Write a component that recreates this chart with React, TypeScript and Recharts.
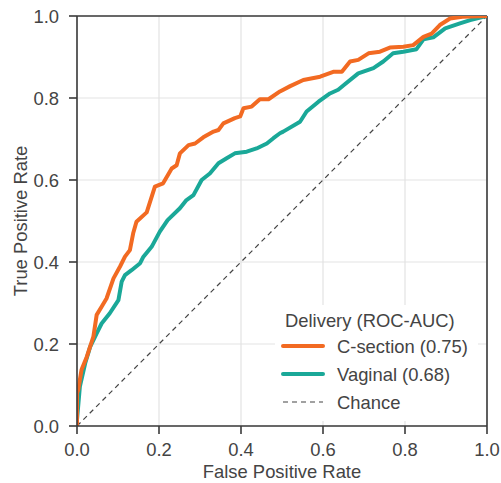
import React from 'react';
import {
  LineChart,
  Line,
  XAxis,
  YAxis,
  CartesianGrid,
  ReferenceLine,
  Legend,
  Label,
} from 'recharts';

// ROC curves by delivery mode
const csectionFpr = [
  0, 0, 0.003, 0.011, 0.024, 0.04, 0.048, 0.06, 0.072, 0.089, 0.105, 0.117, 0.129,
  0.137, 0.145, 0.17, 0.19, 0.21, 0.231, 0.243, 0.251, 0.272, 0.288, 0.308, 0.333,
  0.345, 0.357, 0.385, 0.398, 0.406, 0.426, 0.446, 0.467, 0.495, 0.52, 0.552, 0.593,
  0.625, 0.646, 0.666, 0.686, 0.711, 0.739, 0.763, 0.796, 0.82, 0.845, 0.865, 0.885,
  0.91, 0.94, 1,
];
const csectionTpr = [
  0, 0.08, 0.088, 0.137, 0.169, 0.218, 0.271, 0.291, 0.311, 0.36, 0.389, 0.413, 0.429,
  0.47, 0.498, 0.521, 0.584, 0.592, 0.628, 0.636, 0.665, 0.685, 0.689, 0.704, 0.718,
  0.722, 0.738, 0.751, 0.755, 0.775, 0.779, 0.797, 0.797, 0.816, 0.829, 0.844, 0.852,
  0.864, 0.864, 0.889, 0.893, 0.909, 0.913, 0.923, 0.925, 0.929, 0.949, 0.957, 0.978,
  0.994, 0.998, 1,
];

const vaginalFpr = [
  0, 0, 0.007, 0.02, 0.032, 0.048, 0.06, 0.08, 0.101, 0.109, 0.117, 0.133, 0.154,
  0.162, 0.182, 0.202, 0.221, 0.251, 0.267, 0.284, 0.304, 0.324, 0.345, 0.365, 0.385,
  0.414, 0.438, 0.463, 0.479, 0.495, 0.503, 0.544, 0.56, 0.589, 0.617, 0.637, 0.654,
  0.686, 0.723, 0.747, 0.771, 0.796, 0.828, 0.845, 0.869, 0.898, 0.934, 0.959, 1,
];
const vaginalTpr = [
  0, 0.015, 0.096, 0.153, 0.193, 0.226, 0.25, 0.275, 0.307, 0.352, 0.368, 0.38, 0.397,
  0.413, 0.437, 0.474, 0.502, 0.531, 0.551, 0.563, 0.6, 0.616, 0.641, 0.653, 0.665,
  0.669, 0.677, 0.689, 0.702, 0.714, 0.718, 0.742, 0.767, 0.791, 0.811, 0.82, 0.834,
  0.86, 0.873, 0.889, 0.909, 0.913, 0.919, 0.943, 0.948, 0.97, 0.982, 0.99, 1,
];

const chanceFpr = [0, 1];
const chanceTpr = [0, 1];

const axisTicks = [0, 0.2, 0.4, 0.6, 0.8, 1.0];

const seriesNames = ['C-section (0.75)', 'Vaginal (0.68)', 'Chance'];
const legendTitle = 'Delivery (ROC-AUC)';

const zip = (xs: number[], ys: number[]) => xs.map((x, i) => ({ fpr: x, tpr: ys[i] }));

const csectionData = zip(csectionFpr, csectionTpr);
const vaginalData = zip(vaginalFpr, vaginalTpr);
const chanceData = zip(chanceFpr, chanceTpr);

const ORANGE = '#f26a22';
const TEAL = '#1aa898';
const INK = '#444444';
const SPINE = '#3a3a3a';
const FONT = '"Liberation Sans", Arial, Helvetica, sans-serif';
const FS = 18.4;

const LegendBox = () => (
  <svg width={203} height={116} style={{ display: 'block', background: '#ffffff' }}>
    <text x={10} y={15} dominantBaseline="central" fontSize={FS} fill={INK} fontFamily={FONT}>
      {legendTitle}
    </text>
    <line x1={8} x2={48} y1={41} y2={41} stroke={ORANGE} strokeWidth={4} strokeLinecap="round" />
    <text x={62} y={41} dominantBaseline="central" fontSize={FS} fill={INK} fontFamily={FONT}>
      {seriesNames[0]}
    </text>
    <line x1={8} x2={48} y1={69} y2={69} stroke={TEAL} strokeWidth={4} strokeLinecap="round" />
    <text x={62} y={69} dominantBaseline="central" fontSize={FS} fill={INK} fontFamily={FONT}>
      {seriesNames[1]}
    </text>
    <line x1={8} x2={48} y1={97} y2={97} stroke={INK} strokeWidth={1.2} strokeDasharray="5 4" />
    <text x={62} y={97} dominantBaseline="central" fontSize={FS} fill={INK} fontFamily={FONT}>
      {seriesNames[2]}
    </text>
  </svg>
);

const YTitle = (props: any) => {
  const vb = props.viewBox || { x: 0, y: 16, width: 77, height: 410 };
  const cx = vb.x + 20;
  const cy = vb.y + vb.height / 2;
  return (
    <text
      x={cx}
      y={cy}
      transform={`rotate(-90 ${cx} ${cy})`}
      textAnchor="middle"
      dominantBaseline="central"
      fontSize={FS}
      fill={INK}
      fontFamily={FONT}
    >
      True Positive Rate
    </text>
  );
};

const XTitle = (props: any) => {
  const vb = props.viewBox || { x: 77, y: 426, width: 410, height: 57 };
  const cx = vb.x + vb.width / 2;
  return (
    <text x={cx} y={vb.y + 52} textAnchor="middle" fontSize={FS} fill={INK} fontFamily={FONT}>
      False Positive Rate
    </text>
  );
};

const tickStyle = { fontSize: FS, fill: INK, fontFamily: FONT };

export default function App() {
  return (
    <div style={{ position: 'absolute', left: 0, top: 0, width: 501, height: 483, background: '#fff', fontFamily: FONT }}>
      <LineChart width={501} height={483} margin={{ top: 16, right: 14, left: 0, bottom: 0 }}>
        <CartesianGrid stroke="#e3e3e3" strokeWidth={1.2} />
        <XAxis
          type="number"
          dataKey="fpr"
          domain={[0, 1]}
          ticks={axisTicks}
          tickFormatter={(v: number) => v.toFixed(1)}
          height={57}
          tickSize={8}
          tickMargin={9}
          tick={tickStyle}
          stroke={SPINE}
          strokeWidth={1.6}
          tickLine={{ stroke: SPINE, strokeWidth: 1.6 }}
          allowDataOverflow
        >
          <Label content={<XTitle />} />
        </XAxis>
        <YAxis
          type="number"
          dataKey="tpr"
          domain={[0, 1]}
          ticks={axisTicks}
          tickFormatter={(v: number) => v.toFixed(1)}
          width={77}
          tickSize={8}
          tickMargin={10}
          tick={tickStyle}
          stroke={SPINE}
          strokeWidth={1.6}
          tickLine={{ stroke: SPINE, strokeWidth: 1.6 }}
          allowDataOverflow
        >
          <Label content={<YTitle />} />
        </YAxis>
        <ReferenceLine y={1} stroke={SPINE} strokeWidth={1.6} ifOverflow="visible" />
        <ReferenceLine x={1} stroke={SPINE} strokeWidth={1.6} ifOverflow="visible" />
        <Line
          data={chanceData}
          dataKey="tpr"
          type="linear"
          stroke={INK}
          strokeWidth={1.2}
          strokeDasharray="5 4"
          dot={false}
          activeDot={false}
          isAnimationActive={false}
          name={seriesNames[2]}
        />
        <Line
          data={vaginalData}
          dataKey="tpr"
          type="linear"
          stroke={TEAL}
          strokeWidth={4}
          strokeLinejoin="round"
          dot={false}
          activeDot={false}
          isAnimationActive={false}
          name={seriesNames[1]}
        />
        <Line
          data={csectionData}
          dataKey="tpr"
          type="linear"
          stroke={ORANGE}
          strokeWidth={4}
          strokeLinejoin="round"
          dot={false}
          activeDot={false}
          isAnimationActive={false}
          name={seriesNames[0]}
        />
        <Legend
          layout="vertical"
          align="center"
          verticalAlign="middle"
          content={() => <LegendBox />}
          wrapperStyle={{ left: 275, top: 305, width: 203, height: 116, margin: 0 }}
        />
      </LineChart>
    </div>
  );
}
